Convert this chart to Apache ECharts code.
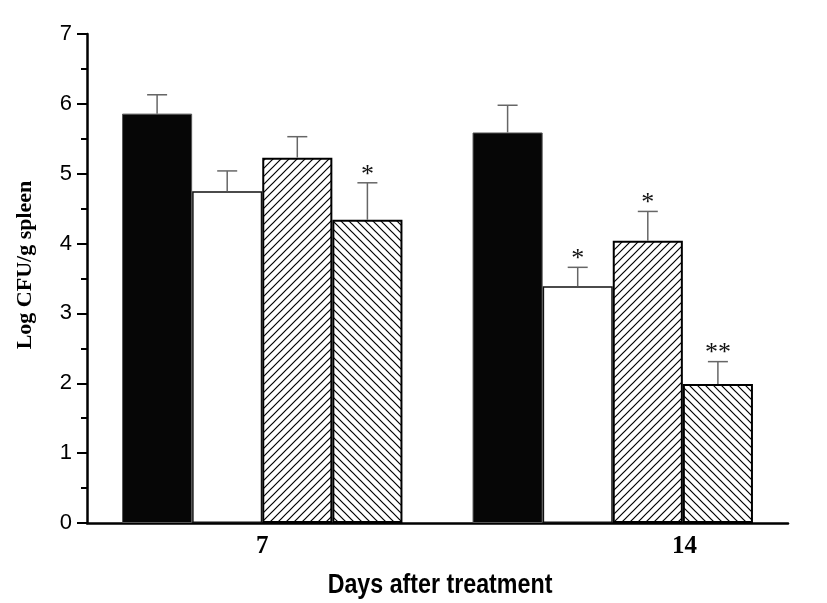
<!DOCTYPE html>
<html>
<head>
<meta charset="utf-8">
<script src="https://cdn.jsdelivr.net/npm/echarts@6/dist/echarts.min.js"></script>
<style>
html,body{margin:0;padding:0;background:#fff;}
#chart{width:827px;height:603px;}
</style>
</head>
<body>
<div id="chart"></div>
<script>
// ---- data ----
var categories = ['7', '14'];
var tickLabels = ['7', '14'];
var seriesNames = ['Group 1', 'Group 2', 'Group 3', 'Group 4'];
var means1 = [5.86, 5.59];
var means2 = [4.75, 3.39];
var means3 = [5.23, 4.04];
var means4 = [4.34, 1.99];
var upper1 = [6.13, 5.98];
var upper2 = [5.04, 3.66];
var upper3 = [5.53, 4.46];
var upper4 = [4.87, 2.31];
var sig1 = ['', ''];
var sig2 = ['', '*'];
var sig3 = ['', '*'];
var sig4 = ['*', '**'];
var xTitle = 'Days after treatment';
var yTitle = 'Log CFU/g spleen';

function hatch(dir) {
  var s = 8;
  var c = document.createElement('canvas');
  c.width = s; c.height = s;
  var ctx = c.getContext('2d');
  ctx.fillStyle = '#fff';
  ctx.fillRect(0, 0, s, s);
  ctx.strokeStyle = '#000';
  ctx.lineWidth = 1.2;
  ctx.beginPath();
  if (dir === '/') {
    ctx.moveTo(-1, s + 1); ctx.lineTo(s + 1, -1);
    ctx.moveTo(-1, 1); ctx.lineTo(1, -1);
    ctx.moveTo(s - 1, s + 1); ctx.lineTo(s + 1, s - 1);
  } else {
    ctx.moveTo(-1, -1); ctx.lineTo(s + 1, s + 1);
    ctx.moveTo(s - 1, -1); ctx.lineTo(s + 1, 1);
    ctx.moveTo(-1, s - 1); ctx.lineTo(1, s + 1);
  }
  ctx.stroke();
  return c;
}

var means = [means1, means2, means3, means4];
var uppers = [upper1, upper2, upper3, upper4];
var sigs = [sig1, sig2, sig3, sig4];
var styles = [
  {color: '#060606', borderColor: '#555', borderWidth: 1},
  {color: '#ffffff', borderColor: '#111', borderWidth: 1.5},
  {color: {image: hatch('/'), repeat: 'repeat'}, borderColor: '#000', borderWidth: 2},
  {color: {image: hatch('\\'), repeat: 'repeat'}, borderColor: '#000', borderWidth: 2}
];

var series = [];
means.forEach(function (m, i) {
  series.push({
    name: seriesNames[i], type: 'bar', data: m,
    barGap: '0%', barCategoryGap: '20%',
    itemStyle: styles[i], silent: true, z: 2
  });
});
means.forEach(function (m, i) {
  var data = m.map(function (v, j) { return [j, v, uppers[i][j], sigs[i][j]]; });
  series.push({
    type: 'custom', data: data, z: 3, silent: true,
    renderItem: function (params, api) {
      var j = api.value(0);
      var band = api.size([1, 0])[0];
      var bw = band * 0.8 / 4;
      var base = api.coord([j, api.value(1)]);
      var top = api.coord([j, api.value(2)]);
      var x = base[0] + (i - 1.5) * bw;
      var children = [
        {type: 'line', shape: {x1: x, y1: base[1], x2: x, y2: top[1]}, style: {stroke: '#666', lineWidth: 1.5}},
        {type: 'line', shape: {x1: x - 10, y1: top[1], x2: x + 10, y2: top[1]}, style: {stroke: '#666', lineWidth: 1.5}}
      ];
      var s = data[params.dataIndex][3];
      if (s) {
        children.push({type: 'text', style: {text: s, x: x, y: top[1] - 8, align: 'center', verticalAlign: 'middle',
          font: '26px "Liberation Serif", serif', fill: '#111'}});
      }
      return {type: 'group', children: children};
    }
  });
});

var labelPos = [0.5, 1.705];
var chart = echarts.init(document.getElementById('chart'));
chart.setOption({
  animation: false,
  backgroundColor: '#fff',
  grid: {left: 87, right: 39, top: 34, bottom: 80},
  xAxis: [{
    type: 'category', data: categories,
    axisLine: {lineStyle: {color: '#000', width: 2.5}},
    axisTick: {inside: true, length: 13, lineStyle: {color: '#000', width: 2}},
    axisLabel: {show: false}
  }, {
    type: 'value', min: 0, max: 2, position: 'bottom',
    axisLine: {show: false},
    splitLine: {show: false},
    axisTick: {show: true, inside: true, length: 4, customValues: [labelPos[1]], lineStyle: {color: '#000', width: 1.5}},
    axisLabel: {customValues: labelPos, margin: 11, color: '#000',
      fontFamily: '"Liberation Serif", serif', fontWeight: 'bold', fontSize: 25,
      formatter: function (v) {
        var best = 0;
        labelPos.forEach(function (p, k) { if (Math.abs(p - v) < Math.abs(labelPos[best] - v)) best = k; });
        return tickLabels[best];
      }}
  }],
  yAxis: {
    type: 'value', min: 0, max: 7, interval: 1,
    axisLine: {show: true, lineStyle: {color: '#000', width: 2.5}},
    axisTick: {show: true, length: 10, lineStyle: {color: '#000', width: 2}},
    minorTick: {show: true, splitNumber: 2, length: 6, lineStyle: {color: '#000', width: 2}},
    splitLine: {show: false},
    axisLabel: {color: '#000', fontFamily: '"Liberation Sans", Arial, sans-serif', fontSize: 22, margin: 15}
  },
  graphic: [{
    type: 'text', x: 440, y: 585, scaleX: 0.83,
    style: {text: xTitle, align: 'center', verticalAlign: 'middle', fill: '#000',
      font: 'bold 28px "Liberation Sans", Arial, sans-serif'}
  }, {
    type: 'text', x: 25, y: 265, rotation: Math.PI / 2,
    style: {text: yTitle, align: 'center', verticalAlign: 'middle', fill: '#000',
      font: 'bold 22px "Liberation Serif", serif'}
  }],
  series: series
});
</script>
</body>
</html>
